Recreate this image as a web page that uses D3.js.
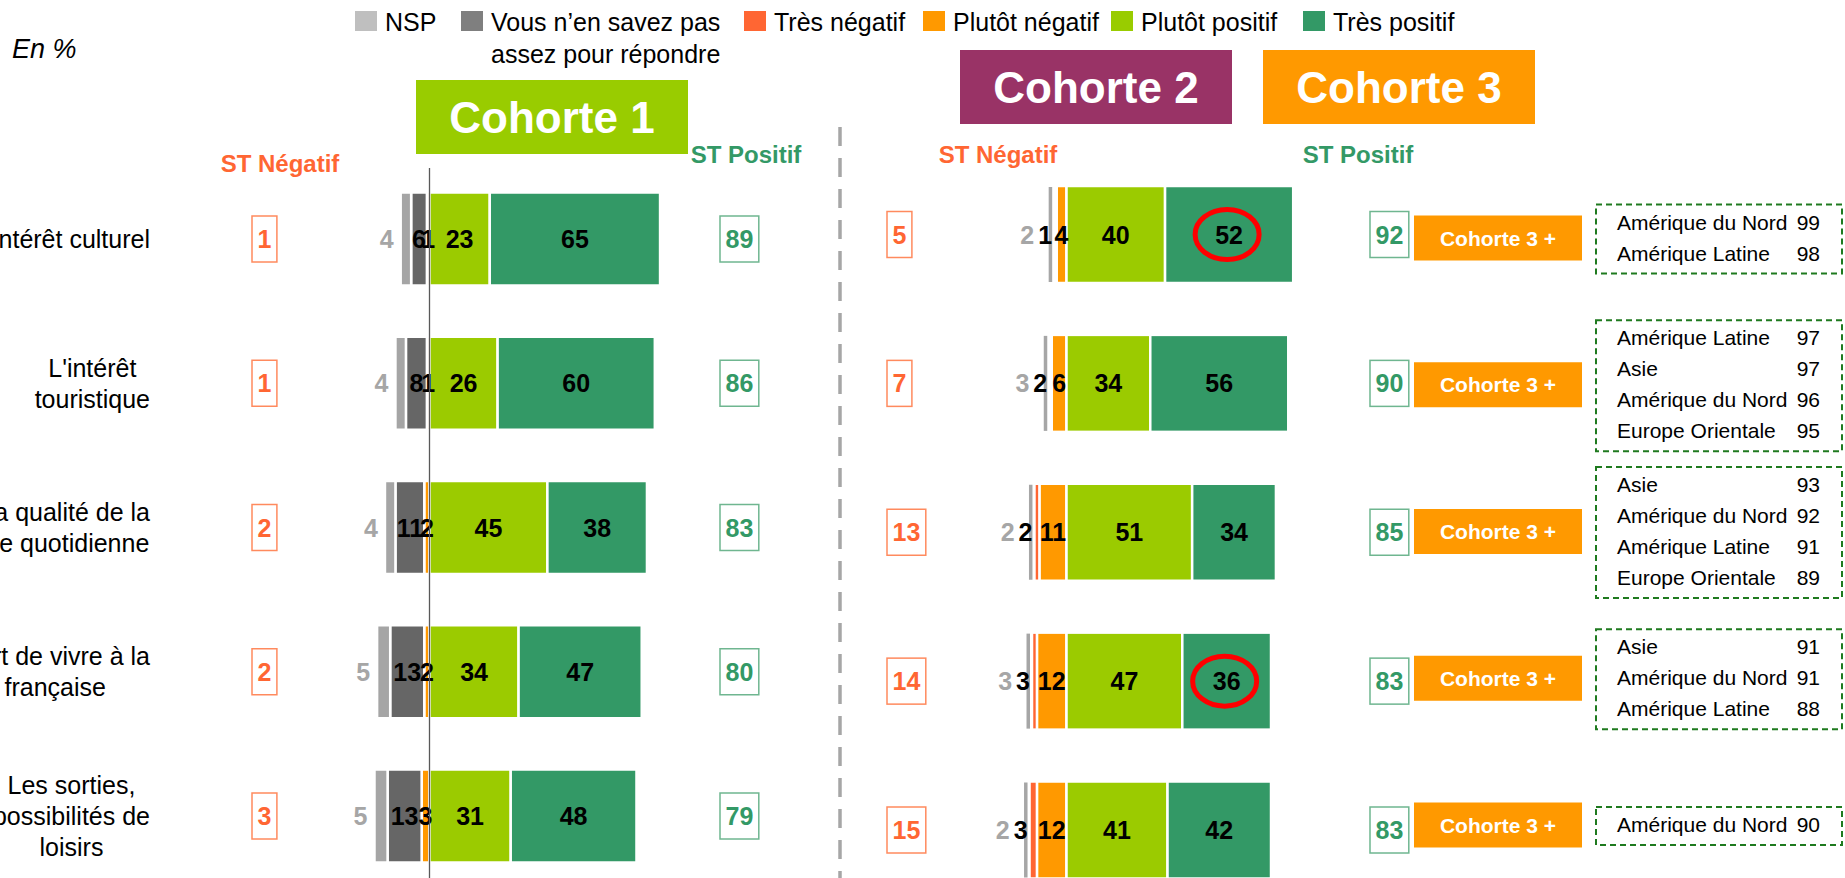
<!DOCTYPE html>
<html>
<head>
<meta charset="utf-8">
<script src="https://cdn.jsdelivr.net/npm/d3@7"></script>
<style>
  body { margin: 0; background: #fff; }
  svg { display: block; font-family: "Liberation Sans", Arial, sans-serif; }
</style>
</head>
<body>
<svg width="1845" height="878"></svg>
<script>
const svg = d3.select("svg");

// ---- data ----
const itemLines = [
  ["L'intérêt culturel"],
  ["L'intérêt", "touristique"],
  ["La qualité de la", "vie quotidienne"],
  ["L'art de vivre à la", "française"],
  ["Les sorties,", "possibilités de", "loisirs"]
];

const legendLabels = [["NSP"], ["Vous n’en savez pas", "assez pour répondre"], ["Très négatif"], ["Plutôt négatif"], ["Plutôt positif"], ["Très positif"]];
const legendColors = ["#bfbfbf", "#7f7f7f", "#ff6633", "#ff9900", "#99cc00", "#339966"];

const cohortNames = ["Cohorte 1", "Cohorte 2", "Cohorte 3"];
const cohortColors = ["#99cc00", "#993366", "#ff9900"];

// cohorte 1
const c1Nsp = [4, 4, 4, 5, 5];
const c1Vous = [6, 8, 11, 13, 13];
const c1TresNeg = [0, 0, 0, 0, 0];
const c1PlutotNeg = [1, 1, 2, 2, 3];
const c1PlutotPos = [23, 26, 45, 34, 31];
const c1TresPos = [65, 60, 38, 47, 48];
const c1StNeg = [1, 1, 2, 2, 3];
const c1StPos = [89, 86, 83, 80, 79];

// cohorte 2
const c2Nsp = [2, 3, 2, 3, 2];
const c2Vous = [1, 2, 2, 3, 3];
const c2TresNeg = [1, 1, 2, 2, 3];
const c2PlutotNeg = [4, 6, 11, 12, 12];
const c2PlutotPos = [40, 34, 51, 47, 41];
const c2TresPos = [52, 56, 34, 36, 42];
const c2StNeg = [5, 7, 13, 14, 15];
const c2StPos = [92, 90, 85, 83, 83];
const c2Circled = [true, false, false, true, false];

// cohorte 3 +
const c3Label = "Cohorte 3 +";
const regionNames = [
  ["Amérique du Nord", "Amérique Latine"],
  ["Amérique Latine", "Asie", "Amérique du Nord", "Europe Orientale"],
  ["Asie", "Amérique du Nord", "Amérique Latine", "Europe Orientale"],
  ["Asie", "Amérique du Nord", "Amérique Latine"],
  ["Amérique du Nord"]
];
const regionValues = [[99, 98], [97, 97, 96, 95], [93, 92, 91, 89], [91, 91, 88], [90]];

// ---- layout ----
const segColor = { nsp: "#a5a5a5", vous: "#666666", tn: "#ff6633", pn: "#ff9900", pp: "#9bcb00", tp: "#339966" };
const negColor = "#ff6633", posColor = "#339966";
const legendX = [355, 461, 744, 923, 1111, 1303];
const cohortBoxes = [{ x: 416, y: 80 }, { x: 960, y: 50 }, { x: 1263, y: 50 }];
const digitW = 13.9;

// legend
const legend = svg.append("g");
legendLabels.forEach((lines, i) => {
  legend.append("rect").attr("x", legendX[i]).attr("y", 11).attr("width", 22).attr("height", 20).attr("fill", legendColors[i]);
  lines.forEach((t, j) => {
    legend.append("text").attr("x", legendX[i] + 30).attr("y", 31 + j * 32)
      .attr("font-size", 25).attr("fill", "#000").text(t);
  });
});

svg.append("text").attr("x", 12).attr("y", 58).attr("font-size", 27).attr("font-style", "italic").text("En %");

// cohort header boxes
cohortNames.forEach((name, i) => {
  const b = cohortBoxes[i];
  svg.append("rect").attr("x", b.x).attr("y", b.y).attr("width", 272).attr("height", 74).attr("fill", cohortColors[i]);
  svg.append("text").attr("x", b.x + 136).attr("y", b.y + 53).attr("text-anchor", "middle")
    .attr("font-size", 44).attr("font-weight", "bold").attr("fill", "#fff").text(name);
});

// row positions
const y1 = d3.scalePoint().domain(d3.range(5)).range([239, 816]);
const y2 = d3.scalePoint().domain(d3.range(5)).range([234.5, 830]);
const y3 = d3.scalePoint().domain(d3.range(5)).range([238, 825]);

// row labels (clipped by the left edge like the original)
itemLines.forEach((lines, i) => {
  const g = svg.append("g");
  const texts = lines.map((t, j) => g.append("text")
    .attr("y", y1(i) + 9 + (j - (lines.length - 1) / 2) * 31)
    .attr("font-size", 25).attr("text-anchor", "middle").text(t));
  const maxW = d3.max(texts, t => t.node().getComputedTextLength());
  texts.forEach(t => t.attr("x", 150 - maxW / 2));
});

// divider
svg.append("line").attr("x1", 840).attr("x2", 840).attr("y1", 127).attr("y2", 878)
  .attr("stroke", "#a6a6a6").attr("stroke-width", 3.5).attr("stroke-dasharray", "19,12");

function buildSegments(c) {
  const out = [];
  c.nsp.forEach((_, i) => {
    const neg = [["pn", c.pn[i]], ["tn", c.tn[i]]];
    if (c.scaledGray) neg.push(["vous", c.vous[i]], ["nsp", c.nsp[i]]);
    let acc = 0;
    neg.forEach(([key, v]) => { out.push({ row: i, key, v, a: -acc - v, b: -acc }); acc += v; });
    acc = 0;
    [["pp", c.pp[i]], ["tp", c.tp[i]]].forEach(([key, v]) => { out.push({ row: i, key, v, a: acc, b: acc + v }); acc += v; });
  });
  return out;
}

function stBox(left, cy, value, color, stroke) {
  const w = String(value).length * digitW + 11;
  svg.append("rect").attr("x", left).attr("y", cy - 23).attr("width", w).attr("height", 46)
    .attr("fill", "#fff").attr("stroke", stroke).attr("stroke-width", 1.5);
  svg.append("text").attr("x", left + w / 2).attr("y", cy + 9).attr("text-anchor", "middle")
    .attr("font-size", 25).attr("font-weight", "bold").attr("fill", color).text(value);
}

function drawCohort(c) {
  const g = svg.append("g");
  const segs = buildSegments(c);

  g.selectAll("rect.seg").data(segs.filter(d => d.v > 0)).join("rect")
    .attr("class", "seg")
    .attr("x", d => c.x(d.a))
    .attr("width", d => c.x(d.b) - c.x(d.a))
    .attr("y", d => c.y(d.row) - c.barH / 2)
    .attr("height", c.barH)
    .attr("fill", d => segColor[d.key])
    .attr("stroke", "#fff").attr("stroke-width", 2.5);

  const inKeys = c.scaledGray ? ["vous", "pn", "pp", "tp"] : ["pn", "pp", "tp"];
  g.selectAll("text.val").data(segs.filter(d => d.v > 0 && inKeys.includes(d.key))).join("text")
    .attr("class", "val")
    .attr("x", d => (c.x(d.a) + c.x(d.b)) / 2)
    .attr("y", d => c.y(d.row) + 9)
    .attr("text-anchor", "middle").attr("font-size", 25).attr("font-weight", "bold").attr("fill", "#000")
    .text(d => d.v);

  c.nsp.forEach((v, i) => {
    const cy = c.y(i) + 9;
    if (c.scaledGray) {
      const start = c.x(-(c.pn[i] + c.tn[i] + c.vous[i] + c.nsp[i]));
      g.append("text").attr("x", start - 14).attr("y", cy).attr("text-anchor", "middle")
        .attr("font-size", 25).attr("font-weight", "bold").attr("fill", "#a6a6a6").text(v);
    } else {
      const redStart = c.x(-(c.pn[i] + c.tn[i]));
      g.append("rect").attr("x", redStart - 5.5).attr("width", 3.5)
        .attr("y", c.y(i) - c.barH / 2 + 1).attr("height", c.barH - 2).attr("fill", "#a6a6a6");
      g.append("text").attr("x", redStart - 2).attr("y", cy).attr("text-anchor", "end")
        .attr("font-size", 25).attr("font-weight", "bold").attr("fill", "#000").text(c.vous[i]);
      g.append("text").attr("x", redStart - 6 - String(c.vous[i]).length * digitW).attr("y", cy).attr("text-anchor", "end")
        .attr("font-size", 25).attr("font-weight", "bold").attr("fill", "#a6a6a6").text(v);
    }
    stBox(c.negLeft, c.y(i), c.stNeg[i], negColor, "#ff8a5e");
    stBox(c.posLeft, c.y(i), c.stPos[i], posColor, "#6fb690");
  });

  svg.append("text").attr("x", c.negHead[0]).attr("y", c.negHead[1]).attr("text-anchor", "middle")
    .attr("font-size", 24).attr("font-weight", "bold").attr("fill", negColor).text("ST Négatif");
  svg.append("text").attr("x", c.posHead[0]).attr("y", c.posHead[1]).attr("text-anchor", "middle")
    .attr("font-size", 24).attr("font-weight", "bold").attr("fill", posColor).text("ST Positif");
  return g;
}

// cohorte 1
const k1 = 2.62, zero1 = 429.5;
const x1 = d3.scaleLinear().domain([-25, 90]).range([zero1 - 25 * k1, zero1 + 90 * k1]);
drawCohort({
  x: x1, y: y1, barH: 93, scaledGray: true,
  nsp: c1Nsp, vous: c1Vous, tn: c1TresNeg, pn: c1PlutotNeg, pp: c1PlutotPos, tp: c1TresPos,
  stNeg: c1StNeg, stPos: c1StPos, negLeft: 252, posLeft: 720,
  negHead: [280, 172], posHead: [746, 163]
});
svg.append("line").attr("x1", x1(0)).attr("x2", x1(0)).attr("y1", 168).attr("y2", 878)
  .attr("stroke", "#595959").attr("stroke-width", 1.3);

// cohorte 2
const k2 = 2.464, zero2 = 1066.5;
const x2 = d3.scaleLinear().domain([-25, 95]).range([zero2 - 25 * k2, zero2 + 95 * k2]);
const g2 = drawCohort({
  x: x2, y: y2, barH: 97, scaledGray: false,
  nsp: c2Nsp, vous: c2Vous, tn: c2TresNeg, pn: c2PlutotNeg, pp: c2PlutotPos, tp: c2TresPos,
  stNeg: c2StNeg, stPos: c2StPos, negLeft: 887, posLeft: 1370,
  negHead: [998, 163], posHead: [1358, 163]
});
c2Circled.forEach((on, i) => {
  if (!on) return;
  const cx = x2(c2PlutotPos[i] + c2TresPos[i] / 2);
  g2.append("ellipse").attr("cx", cx - 2).attr("cy", y2(i)).attr("rx", 32).attr("ry", 25)
    .attr("fill", "none").attr("stroke", "#ff0000").attr("stroke-width", 5);
});

// cohorte 3 + and regions
regionNames.forEach((names, i) => {
  const cy = y3(i);
  svg.append("rect").attr("x", 1414).attr("y", cy - 22.5).attr("width", 168).attr("height", 45).attr("fill", "#ff9900");
  svg.append("text").attr("x", 1498).attr("y", cy + 7.5).attr("text-anchor", "middle")
    .attr("font-size", 21).attr("font-weight", "bold").attr("fill", "#fff").text(c3Label);

  const n = names.length;
  const top = cy - (n - 1) * 15.5 - 18, bottom = cy + (n - 1) * 15.5 + 20;
  svg.append("rect").attr("x", 1596).attr("y", top).attr("width", 246).attr("height", bottom - top)
    .attr("fill", "none").attr("stroke", "#1f7a1f").attr("stroke-width", 2).attr("stroke-dasharray", "6,4");
  names.forEach((nm, j) => {
    const ly = cy + (j - (n - 1) / 2) * 31 + 7;
    svg.append("text").attr("x", 1617).attr("y", ly).attr("font-size", 21).text(nm);
    svg.append("text").attr("x", 1820).attr("y", ly).attr("text-anchor", "end").attr("font-size", 21).text(regionValues[i][j]);
  });
});
</script>
</body>
</html>
